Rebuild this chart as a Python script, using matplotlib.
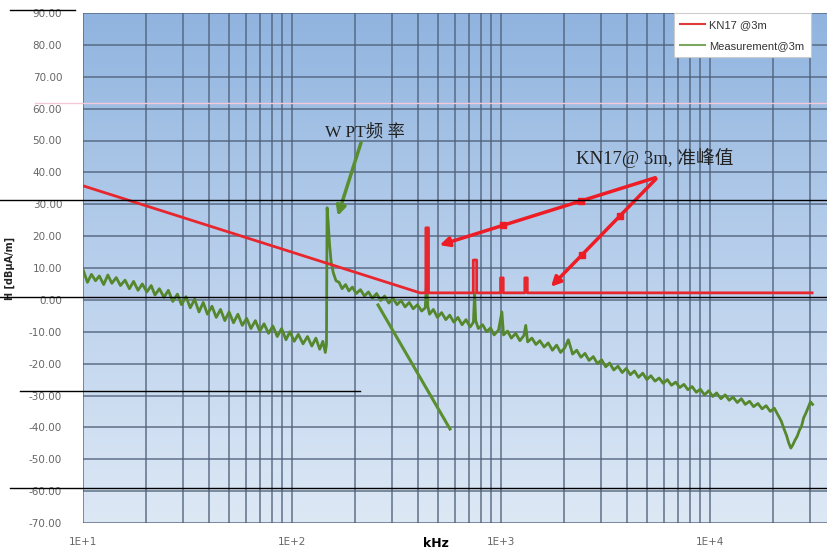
import matplotlib.pyplot as plt
import numpy as np
from matplotlib.colors import LinearSegmentedColormap
from matplotlib.lines import Line2D
from matplotlib.ticker import LogLocator, NullFormatter, FixedLocator, FixedFormatter

# KN17 limit @3m  (kHz, dBuA/m)
kn17_freq = [10, 410, 437, 437, 450, 450, 737, 737, 765, 765, 995, 995, 1025, 1025,
             1300, 1300, 1336, 1336, 30800]
kn17_level = [35.8, 2.2, 2.2, 22.6, 22.6, 2.2, 2.2, 12.5, 12.5, 2.2, 2.2, 6.9, 6.9, 2.2,
              2.2, 6.9, 6.9, 2.2, 2.2]

meas_freq = [10, 10.5, 10.98, 11.48, 11.97, 12.56, 13.15, 13.74, 14.42, 15.11, 15.89, 16.67,
             17.46, 18.34, 19.22, 20.2, 21.2, 22.1, 23.2, 24.4, 25.6, 26.9, 28.3, 29.6, 31.1,
             32.6, 34.2, 35.9, 37.6, 39.4, 41.4, 43.4, 45.5, 47.7, 50.0, 52.5, 55.1, 57.8,
             60.7, 63.6, 66.8, 70.1, 73.5, 77.2, 81.0, 85.0, 89.2, 93.6,
             97.7, 102.5, 107.2, 112.9, 118.6, 124.4, 130.1, 135.7, 140.5, 144.3, 146.2,
             147.2, 149.1, 151.0, 153.8, 157.6, 162.4, 168.0, 173.7, 180.4, 187.1, 194.4,
             203.0, 212.5, 222.1, 232.1, 242.6, 254.0, 265.4, 277.3, 290.6, 303.9, 318.1,
             332.6, 347.7, 363.8, 380.3, 398.3, 417.2, 434.2, 440.8, 446.5, 455.0, 474.6,
             496.3, 519.8, 544.3, 568.6, 594.9, 622.1, 651.2, 679.9, 711.9, 738.1, 747.5,
             756.9, 779.0, 816.5, 853.9, 891.3, 926.8,
             973, 1009.8, 1028.4, 1074.3, 1120.8, 1175.5, 1231.2, 1286.8, 1313.4, 1341.2,
             1406, 1469.4, 1534.3, 1608.4, 1682.5, 1762.3, 1845.5, 1928.6, 2020.9, 2100,
             2201.4, 2302.5, 2412.4, 2522.8, 2637.2, 2765.7, 2894, 3031.5, 3169, 3308.5,
             3464, 3628.8, 3802.5, 3976, 4158.6, 4350, 4550, 4768, 4986, 5213.2, 5459, 5713,
             5976, 6247, 6546, 6845, 7170, 7505, 7842, 8212, 8600, 8986,
             9414, 9864, 10306, 10754, 11285, 11821, 12356, 12884, 13507, 14131, 14747,
             15460, 16166, 16963, 17757, 18557, 19443, 20318, 21295, 21915, 22611, 23228,
             23846, 24371, 24900, 25519, 26138, 26745, 27452, 28068, 28775, 29481, 30257,
             30964]
meas_level = [9.5, 5.5, 8.0, 6.0, 7.5, 4.8, 7.8, 5.2, 7.0, 4.5, 6.2, 3.5, 5.8, 3.0, 5.0,
              2.5, 4.5, 1.5, 3.5, 0.8, 3.0, -0.5, 1.8, -1.5, 1.0, -2.5, 0.2, -3.8, -0.8,
              -4.5, -2.0, -5.5, -3.0, -6.5, -3.8, -7.2, -4.5, -8.0, -5.8, -9.0, -6.5, -9.8, -7.5,
              -10.5, -8.2, -11.5, -9.0, -12.5,
              -10.0, -13.0, -10.8, -13.8, -11.5, -14.5, -12.0, -15.5, -13.0, -16.5, -14.0, 28.9,
              24.0, 18.0, 12.0, 8.5,
              6.0, 5.5, 3.5, 4.8, 2.8, 4.0, 2.0, 3.2, 1.2, 2.5, 0.5, 2.0, -0.2, 1.2, -1.0, 0.5,
              -1.5, -0.2, -2.2, -0.8, -2.8, -1.5, -3.5, -2.5, 6.3, -2.0, -4.5, -3.0, -5.5, -4.0,
              -6.2, -4.8, -7.0, -5.5, -7.8, -6.2, -8.5, -7.0, 2.2, -6.5, -9.0, -7.8, -10.0,
              -8.8, -11.0,
              -9.5, -3.8, -11.0, -9.8, -12.0, -10.5, -12.8, -11.2, -8.0, -13.2, -12.0, -14.0,
              -12.8, -14.8, -13.5, -15.8, -14.2, -16.5, -15.0, -12.5, -17.0, -15.8, -18.0,
              -16.8, -19.0, -17.8, -20.0, -18.8, -21.0, -19.8, -22.0, -20.8, -22.8, -21.5,
              -23.5, -22.3, -24.3, -23.0, -25.0, -23.8, -25.5, -24.5, -26.2, -25.0, -26.8,
              -25.8, -27.5, -26.5, -28.2, -27.2, -29.0, -28.0,
              -29.8, -28.5, -30.3, -29.2, -31.0, -29.8, -31.5, -30.5, -32.2, -31.0, -32.8,
              -31.8, -33.5, -32.5, -34.2, -33.2, -35.0, -34.0, -36.5, -38.0, -40.5, -42.5,
              -45.0, -46.5, -45.5, -44.0, -42.8, -41.0, -39.5, -37.0, -35.5, -33.8, -32.0, -32.8]

y_ticks = [-70, -60, -50, -40, -30, -20, -10, 0, 10, 20, 30, 40, 50, 60, 70, 80, 90]
x_ticks = [10, 100, 1000, 10000]
x_tick_labels = ['1E+1', '1E+2', '1E+3', '1E+4']

fig = plt.figure(figsize=(8.28, 5.51), dpi=100)
ax = fig.add_axes([83 / 828, 28 / 551, 745 / 828, 510 / 551])

# blue gradient plot area
bg = LinearSegmentedColormap.from_list('bg', ['#dde8f5', '#b9d0ec', '#90b4df'])
ax.imshow(np.linspace(0, 1, 256).reshape(-1, 1), cmap=bg, origin='lower',
          extent=[0, 1, 0, 1], transform=ax.transAxes, aspect='auto', zorder=0)

ax.set_xscale('log')
ax.set_xlim(10, 36700)
ax.set_ylim(-70, 90)

ax.xaxis.set_major_locator(FixedLocator(x_ticks))
ax.xaxis.set_major_formatter(FixedFormatter(x_tick_labels))
ax.xaxis.set_minor_locator(LogLocator(base=10, subs=np.arange(2, 10)))
ax.xaxis.set_minor_formatter(NullFormatter())
ax.set_yticks(y_ticks)
ax.set_yticklabels(['%.2f' % v for v in y_ticks])

ax.grid(which='both', axis='x', color='#4f6079', lw=1.3, alpha=0.75, zorder=1)
ax.grid(which='major', axis='y', color='#4f6079', lw=1.3, alpha=0.75, zorder=1)
ax.set_axisbelow(True)
for s in ax.spines.values():
    s.set_visible(False)
ax.tick_params(which='both', length=0, labelsize=7.5, labelcolor='#666666')
ax.tick_params(axis='y', pad=15)
ax.tick_params(axis='x', pad=10)

ax.plot(meas_freq, meas_level, color='#55872c', lw=2.0, zorder=3)
ax.plot(kn17_freq, kn17_level, color='#e8262d', lw=2.0, zorder=4)

# annotations
ax.text(223, 52.5, 'W PT频 率', fontsize=12.5, ha='center', va='center',
        family=['Liberation Serif', 'Noto Sans CJK SC'], color='#222222')
ax.annotate('', xy=(164, 25.5), xytext=(216, 50.2),
            arrowprops=dict(arrowstyle='-|>', color='#5a8f2f', lw=2.5, mutation_scale=14))
ax.plot([258, 570], [-1.6, -40.5], color='#5a8f2f', lw=2.2, zorder=5)

ax.text(2285, 44.5, 'KN17@ 3m, 准峰值', fontsize=13.5, ha='left', va='center',
        family=['Liberation Serif', 'Noto Sans CJK SC'], color='#222222')
apex = (5637, 38.6)
for end in [(494, 16.9), (1697, 3.5)]:
    ax.annotate('', xy=end, xytext=apex,
                arrowprops=dict(arrowstyle='-|>', color='#ee1c24', lw=2.5, mutation_scale=14))
    fx = np.array([0.35, 0.7])
    lx = np.log10(apex[0]) + fx * (np.log10(end[0]) - np.log10(apex[0]))
    ly = apex[1] + fx * (end[1] - apex[1])
    ax.plot(10 ** lx, ly, 's', color='#ee1c24', ms=4, zorder=6)

# legend
handles = [Line2D([], [], color='#e03a3a', lw=1.5), Line2D([], [], color='#7aa860', lw=1.5)]
leg = ax.legend(handles, ['KN17 @3m', 'Measurement@3m'], loc='upper right',
                bbox_to_anchor=(0.977, 1.0), borderaxespad=0, fancybox=False,
                prop={'family': 'Liberation Sans', 'size': 8}, handlelength=2.2,
                labelspacing=1.0, borderpad=0.6, handletextpad=0.4, framealpha=1)
leg.get_frame().set_edgecolor('#cccccc')
leg.get_frame().set_linewidth(0.8)
for t in leg.get_texts():
    t.set_color('#333333')

fig.text(10 / 828, 1 - 268 / 551, 'H [dBµA/m]', rotation=90, ha='center', va='center',
         fontsize=7, fontweight='bold', color='#222222')
fig.text(436 / 828, 0.002, 'kHz', ha='center', va='bottom', fontsize=9, fontweight='bold')

# scan artefact lines across the page
for y0, x0, x1, c in [(10, 10, 75, 'black'), (103, 35, 828, '#f3c8d8'),
                      (200, 0, 828, 'black'), (297, 0, 828, 'black'),
                      (391, 20, 360, 'black'), (488, 10, 828, 'black')]:
    fig.add_artist(Line2D([x0 / 828, x1 / 828], [1 - y0 / 551, 1 - y0 / 551],
                          color=c, lw=1.0, transform=fig.transFigure, zorder=10))

plt.savefig('out.png', dpi=100)
